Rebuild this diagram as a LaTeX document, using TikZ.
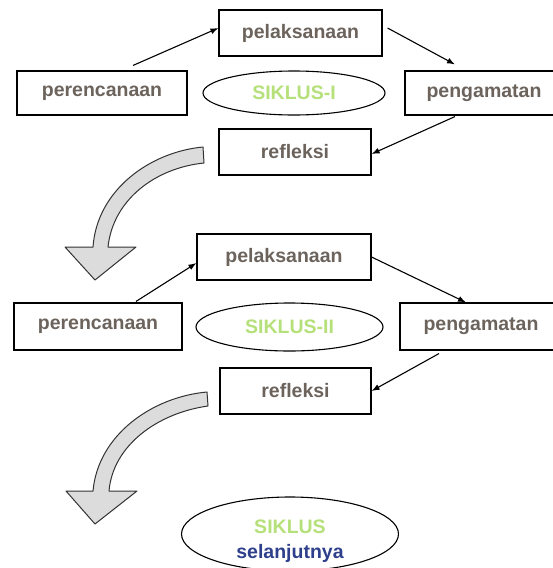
\documentclass[tikz,border=0pt]{standalone}
\usepackage{fontspec}
\setmainfont{Liberation Sans}
\usepackage{tikz}
\usetikzlibrary{shapes.geometric,arrows.meta}
\definecolor{teks}{HTML}{6B635C}
\definecolor{hijau}{HTML}{B5E07A}
\definecolor{biru}{HTML}{2E3F8C}
\definecolor{panah}{HTML}{DCDCDC}

\begin{document}
\begin{tikzpicture}[x=1pt,y=-1pt,
    kotak/.style={draw, line width=1.1pt, inner sep=0pt, minimum height=46pt, text=teks, font=\bfseries\fontsize{19.5}{24}\selectfont},
    siklus/.style={draw, ellipse, line width=1.1pt, inner sep=0pt, font=\bfseries\fontsize{19.5}{24}\selectfont},
    alur/.style={-{Latex[length=8pt,width=6pt]}, line width=1.1pt},
    balik/.style={draw=black!80, fill=panah, line width=1pt, line join=round}]
                \clip (0,0) rectangle (553,568);

                % siklus I
                \node[kotak, minimum width=163pt] (pelaksanaanA) at (300.5,33) {pelaksanaan};
                \node[kotak, minimum width=170pt, minimum height=44pt] (perencanaanA) at (102,93) {perencanaan};
                \node[kotak, minimum width=158pt, minimum height=44pt] (pengamatanA) at (484,93) {pengamatan};
                \node[kotak, minimum width=152pt] (refleksiA) at (295,152) {refleksi};
                \node[siklus, minimum width=182pt, minimum height=44pt, text=hijau] (siklusA) at (294,93) {SIKLUS-I};

                \draw[alur] ([xshift=31pt,yshift=5pt]perencanaanA.north) -- ([yshift=5pt]pelaksanaanA.west);
                \draw[alur] ([xshift=5pt,yshift=5pt]pelaksanaanA.east) -- ([xshift=-29pt,yshift=6pt]pengamatanA.north);
                \draw[alur] ([xshift=-29pt,yshift=-1pt]pengamatanA.south) -- ([yshift=-2pt]refleksiA.east);

                \draw[balik] (203,147) .. controls (150,152) and (97,190) .. (93,247)
                    -- (65,247) -- (95,280) -- (136,247) -- (108,247)
                    .. controls (113,200) and (155,168) .. (204,163) -- cycle;

                % siklus II
                \node[kotak, minimum width=174pt] (pelaksanaanB) at (284,257) {pelaksanaan};
                \node[kotak, minimum width=168pt, minimum height=47pt] (perencanaanB) at (98,326.5) {perencanaan};
                \node[kotak, minimum width=162pt, minimum height=47pt] (pengamatanB) at (481,326.5) {pengamatan};
                \node[kotak, minimum width=151pt] (refleksiB) at (295.5,391) {refleksi};
                \node[siklus, minimum width=187pt, minimum height=48pt, text=hijau] (siklusB) at (289.5,327) {SIKLUS-II};

                \draw[alur] ([xshift=38pt,yshift=1pt]perencanaanB.north) -- ([yshift=-6pt]pelaksanaanB.west);
                \draw[alur] (pelaksanaanB.east) -- ([xshift=-15pt]pengamatanB.north);
                \draw[alur] ([xshift=-42pt,yshift=-3pt]pengamatanB.south) -- (refleksiB.east);

                \draw[balik] (207,392) .. controls (152,397) and (98,435) .. (93,491)
                    -- (66,491) -- (95,524) -- (137,491) -- (109,491)
                    .. controls (113,445) and (158,413) .. (208,406) -- cycle;

                % siklus berikutnya
                \node[siklus, minimum width=217pt, minimum height=74pt,
                    label={[yshift=-7pt, align=center, font=\bfseries\fontsize{19.5}{25}\selectfont]center:\textcolor{hijau}{SIKLUS}\\\textcolor{biru}{selanjutnya}}] (siklusC) at (290,534) {};

            \end{tikzpicture}
\end{document}
